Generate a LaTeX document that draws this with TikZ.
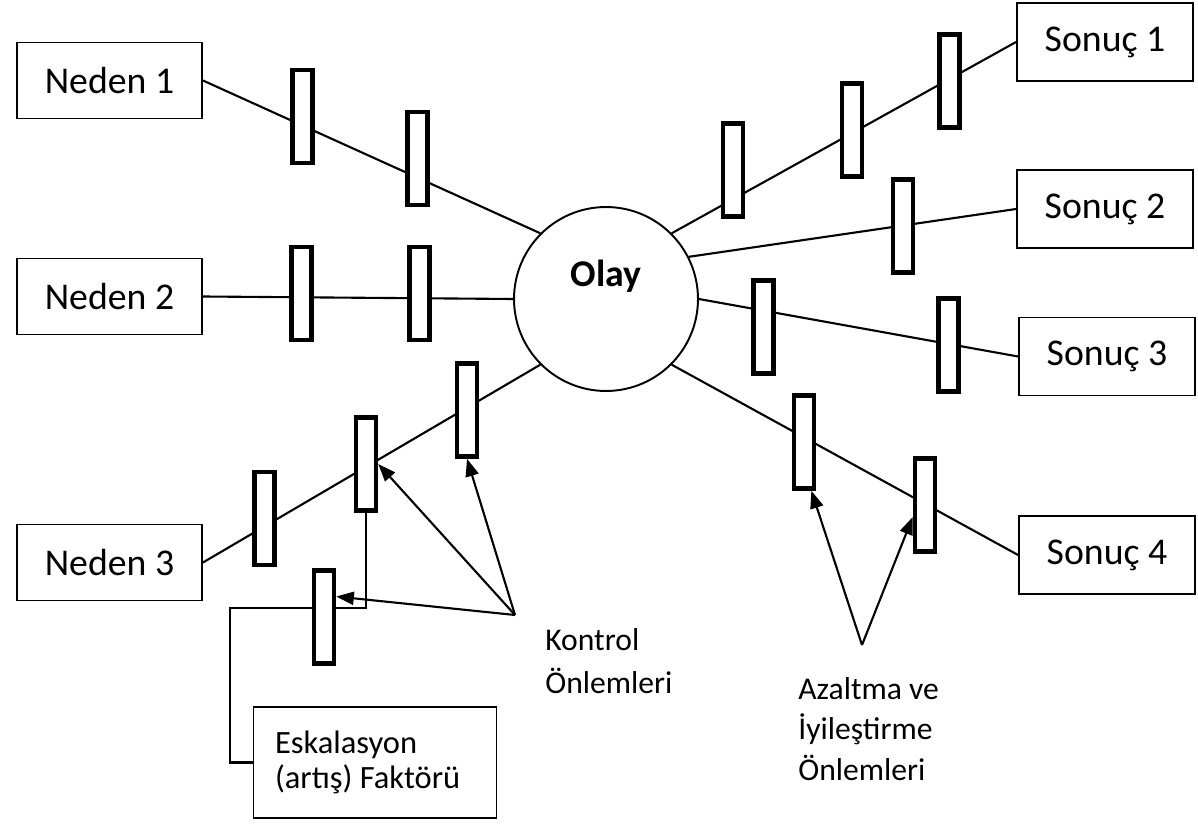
\documentclass[tikz,border=0pt]{standalone}
\usepackage{fontspec}
\setmainfont{Carlito}
\usetikzlibrary{arrows.meta,calc,backgrounds}
\begin{document}
\begin{tikzpicture}[x=0.02cm,y=-0.02cm,
  box/.style={draw, line width=1.1pt, minimum width=3.7cm, minimum height=1.52cm,
    inner sep=0pt, font=\fontsize{21.5}{24}\selectfont},
  sbox/.style={box, minimum width=3.52cm, minimum height=1.56cm},
  bar/.style={draw, fill=white, line width=2.6pt, minimum width=0.40cm,
    minimum height=1.86cm, inner sep=0pt},
  conn/.style={line width=1.2pt},
  arr/.style={line width=1.2pt, -{Triangle[length=10pt,width=7.5pt]}},
  lbl/.style={align=left, anchor=north west, inner sep=0pt,
    font=\fontsize{18}{24.5}\selectfont}
]
\useasboundingbox (0,0) rectangle (1198,824);

% central event
\node[circle, draw, line width=1.1pt, minimum size=3.68cm, inner sep=0pt] (olay) at (606,299) {};
\node[font=\bfseries\fontsize{21.5}{24}\selectfont] (olaytxt) at (606,276) {Olay};

% causes and consequences
\node[box] (n1) at (109.5,80.5) {Neden 1};
\node[box] (n2) at (109.5,296.5) {Neden 2};
\node[box] (n3) at (109.5,562.5) {Neden 3};
\node[sbox] (s1) at (1105,42) {Sonuç 1};
\node[sbox] (s2) at (1105,209) {Sonuç 2};
\node[sbox] (s3) at (1107,356.5) {Sonuç 3};
\node[sbox] (s4) at (1107,555) {Sonuç 4};
\node[draw, line width=1.1pt, text width=4.0cm, inner xsep=0.43cm,
  minimum height=2.22cm, align=flush left, font=\fontsize{18.5}{20}\selectfont]
  (esk) at (375,762.5) {Eskalasyon\\(artış) Faktörü};

% barriers
\node[bar] (a1) at (302.5,116.5) {};
\node[bar] (a2) at (417.5,158.5) {};
\node[bar] (b1) at (301.5,293.5) {};
\node[bar] (b2) at (419.5,293.5) {};
\node[bar] (c1) at (264.5,518.5) {};
\node[bar] (c2) at (366,464) {};
\node[bar] (c3) at (467,410) {};
\node[bar] (d1) at (324,617) {};
\node[bar] (r1) at (733,170) {};
\node[bar] (r2) at (852,130) {};
\node[bar] (r3) at (949.5,81) {};
\node[bar] (q1) at (903,226) {};
\node[bar] (p1) at (763.5,327) {};
\node[bar] (p2) at (948.5,345) {};
\node[bar] (t1) at (804,442) {};
\node[bar] (t2) at (925,505) {};

% connectors run behind the barriers
\coordinate (bend) at (230,608);
\begin{pgfonlayer}{background}
  \draw[conn] (n1.east) -- (olay.135);
  \draw[conn] (n2.east) -- (olay.180);
  \draw[conn] (n3.east) -- (olay.225);
  \draw[conn] (olay.45) -- (s1.west);
  \draw[conn] (olay.27) -- (s2.west);
  \draw[conn] (olay.0) -- (s3.west);
  \draw[conn] (olay.-45) -- (s4.west);
  \draw[conn] (esk.west) -| (bend) -| (c2.south);
\end{pgfonlayer}

% measure labels and pointers
\coordinate (kp) at (515,615);
\coordinate (ap) at (862,645);
\node[lbl] (kontrol) at (545,628) {Kontrol\\Önlemleri};
\node[lbl, font=\fontsize{18}{23}\selectfont] (azaltma) at (798,677) {Azaltma ve\\İyileştirme\\Önlemleri};

\draw[arr] (kp) -- (c3.south);
\draw[arr] (kp) -- (c2.east);
\draw[arr] (kp) -- ($(d1.north east)!0.29!(d1.south east)$);
\draw[arr] (ap) -- ($(t1.south)!0.6!(t1.south east)$);
\draw[arr] (ap) -- ($(t2.west)+(0,12)$);
\end{tikzpicture}
\end{document}
